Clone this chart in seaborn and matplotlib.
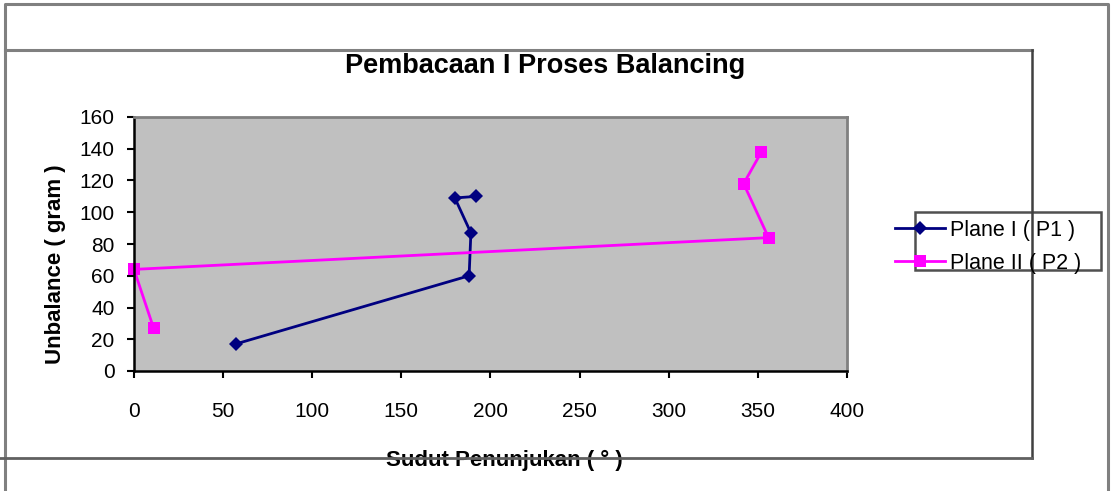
import matplotlib
matplotlib.use("Agg")
import matplotlib.pyplot as plt
from matplotlib.lines import Line2D
from matplotlib.patches import Rectangle
import seaborn as sns
import pandas as pd

# Readings: pointing angle (degrees) and unbalance mass (gram), in measurement order
p1_angle = [57, 188, 189, 180, 192]
p1_unbalance = [17, 60, 87, 109, 110]
p2_angle = [11, 0, 356, 342, 352]
p2_unbalance = [27, 64, 84, 118, 138]

series_names = ["Plane I ( P1 )", "Plane II ( P2 )"]
x_ticks = [0, 50, 100, 150, 200, 250, 300, 350, 400]
y_ticks = [0, 20, 40, 60, 80, 100, 120, 140, 160]

title = "Pembacaan I Proses Balancing"
x_label = "Sudut Penunjukan ( \u00b0 )"
y_label = "Unbalance ( gram )"

df1 = pd.DataFrame({"angle": p1_angle, "unbalance": p1_unbalance})
df2 = pd.DataFrame({"angle": p2_angle, "unbalance": p2_unbalance})

plt.rcParams["font.family"] = ["Liberation Sans", "DejaVu Sans"]

W, H = 1113, 491
fig = plt.figure(figsize=(W / 100, H / 100), dpi=100)


def fx(x):
    return x / W


def fy(y):
    return 1 - y / H


# plot area
left, right, top, bottom = 134, 847, 117, 371
ax = fig.add_axes([fx(left), fy(bottom), fx(right - left), (bottom - top) / H])
ax.set_facecolor("#c0c0c0")

sns.lineplot(data=df1, x="angle", y="unbalance", sort=False, estimator=None,
             color="#000080", marker="D", markersize=7, markeredgewidth=0,
             linewidth=2, ax=ax, label=series_names[0], legend=False,
             clip_on=False)
sns.lineplot(data=df2, x="angle", y="unbalance", sort=False, estimator=None,
             color="#ff00ff", marker="s", markersize=8, markeredgewidth=0,
             linewidth=2, ax=ax, label=series_names[1], legend=False,
             clip_on=False)

ax.set_xlim(0, 400)
ax.set_ylim(0, 160)
ax.set_xticks(x_ticks)
ax.set_yticks(y_ticks)
ax.set_xticklabels([str(v) for v in x_ticks])
ax.set_yticklabels([str(v) for v in y_ticks])
ax.tick_params(axis="x", direction="out", length=5, width=1.5, pad=17,
               labelsize=15, colors="black")
ax.tick_params(axis="y", direction="out", length=5, width=1.5, pad=9,
               labelsize=15, colors="black")

for side in ("left", "bottom"):
    ax.spines[side].set_color("black")
    ax.spines[side].set_linewidth(1.8)
for side in ("top", "right"):
    ax.spines[side].set_color("#808080")
    ax.spines[side].set_linewidth(2)

ax.set_xlabel(x_label, fontsize=16, fontweight="bold", va="center")
ax.xaxis.set_label_coords((504 - left) / (right - left), -(460 - bottom) / (bottom - top))
ax.set_ylabel(y_label, fontsize=16, fontweight="bold", va="center")
ax.yaxis.set_label_coords(-(left - 55) / (right - left), (bottom - 264) / (bottom - top))

fig.text(fx(545), fy(66), title, ha="center", va="center",
         fontsize=19.5, fontweight="bold")


def frame_line(xs, ys, color="#808080", lw=2.2):
    fig.add_artist(Line2D([fx(v) for v in xs], [fy(v) for v in ys],
                          color=color, linewidth=lw, transform=fig.transFigure))


# outer sheet border
frame_line([5, 5, 1108, 1108], [491, 4, 4, 491])
# chart area border
frame_line([5, 1032], [50, 50])
frame_line([1032, 1032], [50, 458], color="#404040", lw=1.8)
frame_line([0, 1032], [458, 458], color="#606060", lw=2)

# legend
fig.add_artist(Rectangle((fx(915), fy(270)), fx(1101 - 915), (270 - 212) / H,
                         transform=fig.transFigure, facecolor="none",
                         edgecolor="#505050", linewidth=1.8))
handles, labels = ax.get_legend_handles_labels()
leg = fig.legend(handles, labels, loc="upper left",
                 bbox_to_anchor=(fx(895), fy(220)), frameon=False,
                 fontsize=15.5, handlelength=2.3, handletextpad=0.25,
                 labelspacing=0.55, borderpad=0, borderaxespad=0)

fig.savefig("out.png", dpi=100)
